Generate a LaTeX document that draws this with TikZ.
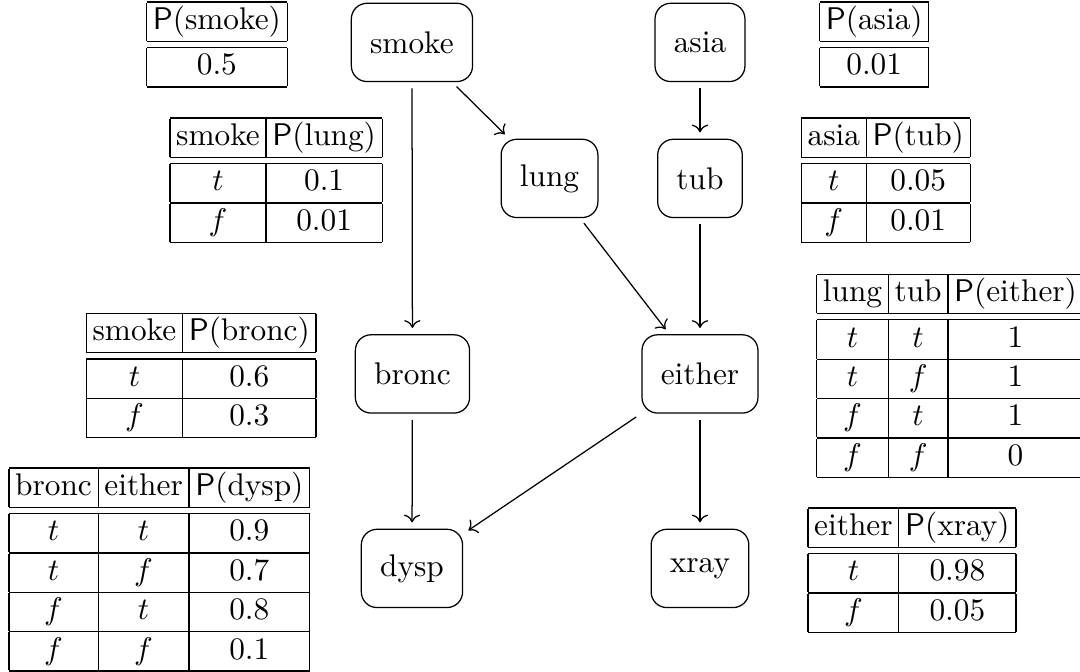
\documentclass[tikz,border=0pt]{standalone}
\usepackage{amsmath,amssymb}
\usepackage{xcolor}
\usepackage{tikz}
\usetikzlibrary{positioning,arrows.meta,calc}
\setlength{\tabcolsep}{2pt}
\renewcommand{\arraystretch}{1.015}
\newcommand{\prob}[1]{\textsf{P}(#1)}

\begin{document}
\begin{tikzpicture}[x=0.974cm, y=0.974cm,
    var/.style={draw, rounded corners=5pt, inner sep=6pt, minimum height=25pt},
    cpt/.style={inner sep=0pt, anchor=north west},
    dep/.style={->, shorten >=2pt, shorten <=2pt}]
    \useasboundingbox (0,0) rectangle (12.445,7.743);

    % Variables
    \node[var] (smoke)  at (4.747, 7.254) {smoke};
    \node[var] (asia)   at (8.066, 7.254) {asia};
    \node[var] (lung)   at (6.332, 5.687) {lung};
    \node[var] (tub)    at (8.066, 5.687) {tub};
    \node[var] (bronc)  at (4.753, 3.434) {bronc};
    \node[var] (either) at (8.066, 3.434) {either};
    \node[var] (dysp)   at (4.747, 1.193) {dysp};
    \node[var] (xray)   at (8.066, 1.193) {xray};

    % Dependencies
    \draw[dep] (smoke) -- (lung);
    \draw[dep] (smoke) -- (bronc);
    \draw[dep] (asia) -- (tub);
    \draw[dep] (lung) -- (either);
    \draw[dep] (tub) -- (either);
    \draw[dep] (bronc) -- (dysp);
    \draw[dep] (either) -- (dysp);
    \draw[dep] (either) -- (xray);

    % Conditional probability tables
    \node[cpt] (tsmoke) at (1.682, 7.735) {%
        \begin{tabular}{|c|}
            \hline \prob{smoke} \\ \hline\hline
            $0.5$ \\ \hline
        \end{tabular}};
    \node[cpt] (tlung) at (1.951, 6.399) {%
        \begin{tabular}{|c|c|}
            \hline smoke & \prob{lung} \\ \hline\hline
            $t$ & $0.1$ \\ \hline
            $f$ & $0.01$ \\ \hline
        \end{tabular}};
    \node[cpt] (tbronc) at (0.988, 4.148) {%
        \begin{tabular}{|c|c|}
            \hline smoke & \prob{bronc} \\ \hline\hline
            $t$ & $0.6$ \\ \hline
            $f$ & $0.3$ \\ \hline
        \end{tabular}};
    \node[cpt] (tdysp) at (0.096, 2.366) {%
        \begin{tabular}{|c|c|c|}
            \hline bronc & either & \prob{dysp} \\ \hline\hline
            $t$ & $t$ & $0.9$ \\ \hline
            $t$ & $f$ & $0.7$ \\ \hline
            $f$ & $t$ & $0.8$ \\ \hline
            $f$ & $f$ & $0.1$ \\ \hline
        \end{tabular}};
    \node[cpt] (tasia) at (9.437, 7.735) {%
        \begin{tabular}{|c|}
            \hline \prob{asia} \\ \hline\hline
            $0.01$ \\ \hline
        \end{tabular}};
    \node[cpt] (ttub) at (9.227, 6.399) {%
        \begin{tabular}{|c|c|}
            \hline asia & \prob{tub} \\ \hline\hline
            $t$ & $0.05$ \\ \hline
            $f$ & $0.01$ \\ \hline
        \end{tabular}};
    \node[cpt] (teither) at (9.403, 4.598) {%
        \begin{tabular}{|c|c|c|}
            \hline lung & tub & \prob{either} \\ \hline\hline
            $t$ & $t$ & $1$ \\ \hline
            $t$ & $f$ & $1$ \\ \hline
            $f$ & $t$ & $1$ \\ \hline
            $f$ & $f$ & $0$ \\ \hline
        \end{tabular}};
    \node[cpt] (txray) at (9.303, 1.905) {%
        \begin{tabular}{|c|c|}
            \hline either & \prob{xray} \\ \hline\hline
            $t$ & $0.98$ \\ \hline
            $f$ & $0.05$ \\ \hline
        \end{tabular}};
\end{tikzpicture}
\end{document}
